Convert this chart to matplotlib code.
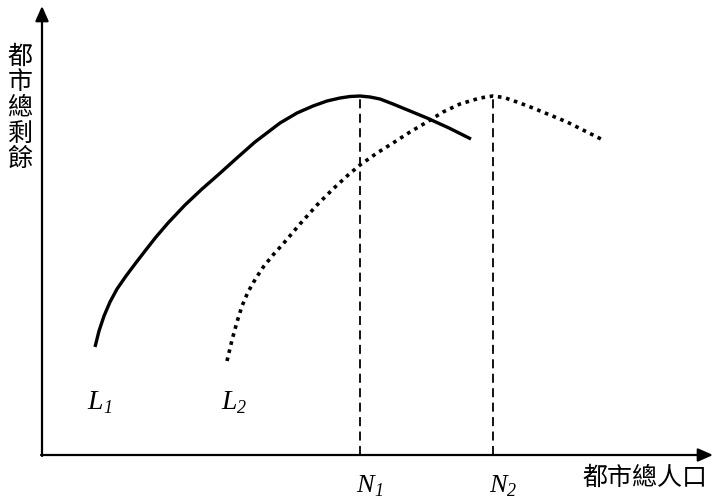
import matplotlib
matplotlib.use("Agg")
import matplotlib.pyplot as plt

plt.rcParams['font.family'] = ['Noto Sans CJK TC', 'DejaVu Sans']

# curve L1 (solid) and L2 (dotted)
l1_x = [53, 57, 62, 68, 75, 84, 93, 103, 114, 126, 143, 160, 176, 196, 213, 238, 255,
        271, 285, 298, 308, 318, 328, 338, 351, 368, 385, 407, 429]
l1_y = [108, 124, 139, 153, 166, 179, 191, 204, 218, 232, 250, 266, 280, 298, 313, 332, 342,
        349, 354, 357, 358.5, 359, 358, 356, 351, 344, 337, 327, 316]
l2_x = [185, 190, 195, 200, 206, 214, 222, 231, 241, 258, 275, 291, 305, 318, 335, 351,
        368, 385, 401, 418, 438, 451, 462, 475, 491, 508, 525, 543, 561]
l2_y = [94, 115, 133, 149, 163, 177, 189, 200, 211, 231, 250, 266, 279, 290, 302, 312,
        323, 333, 343, 351, 357, 359, 357.5, 353, 347, 340, 333, 324, 315]

peak_x = [318, 451]
peak_y = [359, 359]
peak_subs = ['1', '2']
curve_label_x = [61, 195]
curve_subs = ['1', '2']

x_title = '都市總人口'
y_title = '都市總剩餘'

fig = plt.figure(figsize=(7.17, 4.99), dpi=100)
ax = fig.add_axes([0, 0, 1, 1])
ax.set_xlim(-42, 675)
ax.set_ylim(-44, 455)
ax.axis('off')

# axes with arrow heads
ax.annotate('', xy=(0, 449), xytext=(0, -1),
            arrowprops=dict(arrowstyle='-|>,head_length=0.9,head_width=0.4',
                            lw=1.6, color='black', shrinkA=0, shrinkB=0))
ax.annotate('', xy=(671, 0), xytext=(-1, 0),
            arrowprops=dict(arrowstyle='-|>,head_length=0.9,head_width=0.4',
                            lw=1.6, color='black', shrinkA=0, shrinkB=0))

ax.plot(l1_x, l1_y, color='black', lw=2.4, solid_capstyle='butt',
        solid_joinstyle='round')
ax.plot(l2_x, l2_y, color='black', lw=2.6, linestyle=(0, (1, 1.3)),
        dash_capstyle='butt')

serif = dict(family='Liberation Serif', style='italic', color='black')


def sub_label(x, y, letter, sub, size=19):
    ax.text(x, y, letter, fontsize=size, ha='right', va='baseline', **serif)
    ax.text(x, y - 4, sub, fontsize=13, ha='left', va='baseline', **serif)


for px, py, sub in zip(peak_x, peak_y, peak_subs):
    ax.plot([px, px], [0, py], color='black', lw=1.3, linestyle=(0, (5, 3)))
    sub_label(px + 14, -37, 'N', sub)

for cx, sub in zip(curve_label_x, curve_subs):
    sub_label(cx, 46, 'L', sub, size=20)

ax.text(603, -23, x_title, fontsize=18, ha='center', va='center')
ax.text(-22, 347, '\n'.join(y_title), fontsize=18,
        ha='center', va='center', linespacing=0.98)

fig.savefig('out.png', dpi=100)
